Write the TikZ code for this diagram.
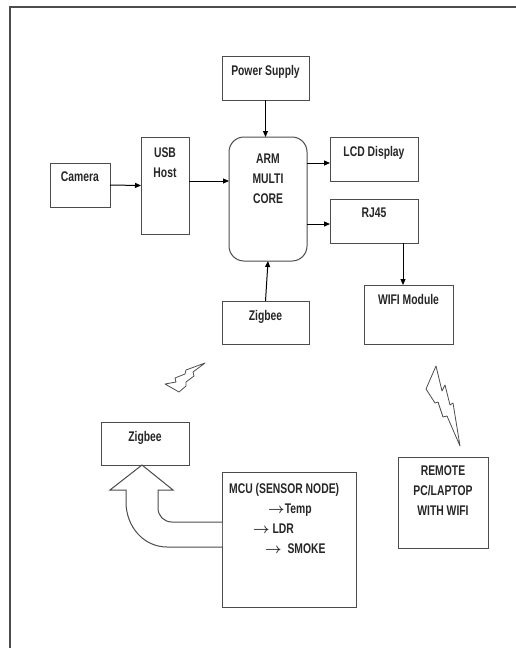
\documentclass[tikz,border=0pt]{standalone}
\usepackage{fontspec}
\setmainfont{Liberation Sans}[FakeStretch=0.74]
\usepackage{tikz}
\usetikzlibrary{arrows.meta}

\newcommand{\sarrow}{{\boldmath$\rightarrow$}}

\begin{document}
\begin{tikzpicture}[
  x=1pt, y=-1pt,
  box/.style   = {draw=black!70, line width=1pt, inner sep=0pt, outer sep=0pt},
  txt/.style   = {anchor=north, inner sep=0pt, yshift=-9pt, align=center,
                  font=\fontsize{14}{20}\selectfont\bfseries, text=black!85},
  arrow/.style = {-{Triangle[length=6pt, width=5pt]}, line width=1pt},
  bolt/.style  = {draw=black!70, line width=0.8pt, fill=white, line join=round}
]
\useasboundingbox (0,0) rectangle (516,648);

% ── Frame ────────────────────────────────────────────────────────────────────
\draw[black!70, line width=2pt] (10,648) -- (10,7) -- (516,7);

% ── Nodes ────────────────────────────────────────────────────────────────────
\node[box, minimum width=87, minimum height=44,
      label={[txt]north:Power Supply}] (pwr) at (265.5,78) {};
\node[box, minimum width=60, minimum height=44,
      label={[txt]north:Camera}] (cam) at (80,185) {};
\node[box, minimum width=48, minimum height=97,
      label={[txt, yshift=-2pt]north:USB\\Host}] (usb) at (165,185.5) {};
\node[box, rounded corners=15pt, minimum width=78, minimum height=124,
      label={[txt, yshift=-8pt]north:ARM\\MULTI\\CORE}] (arm) at (268,199) {};
\node[box, minimum width=88, minimum height=44,
      label={[txt]north:LCD Display}] (lcd) at (374,159) {};
\node[box, minimum width=88, minimum height=44,
      label={[txt]north:RJ45}] (rj) at (374,221) {};
\node[box, minimum width=89, minimum height=59,
      label={[txt]north:WIFI Module}] (wifi) at (408.5,314.5) {};
\node[box, minimum width=87, minimum height=43,
      label={[txt]north:Zigbee}] (zigA) at (265.5,322.5) {};
\node[box, minimum width=88, minimum height=43,
      label={[txt]north:Zigbee}] (zigB) at (145,443.5) {};
\node[box, minimum width=134, minimum height=135,
      label={[txt, anchor=north west, xshift=7pt, yshift=-2pt, align=left]north west:%
        MCU (SENSOR NODE)\\
        \hspace*{39pt}\sarrow Temp\\
        \hspace*{24pt}\sarrow\ LDR\\
        \hspace*{36pt}\sarrow\ \ SMOKE}] (mcu) at (289,539.5) {};
\node[box, minimum width=90, minimum height=91,
      label={[txt]north:REMOTE\\PC/LAPTOP\\WITH WIFI}] (pc) at (443,502.5) {};

% ── Arrows ───────────────────────────────────────────────────────────────────
\draw[arrow] (pwr.south) -- (pwr.south |- arm.north);
\draw[arrow] (cam.east) -- (usb.west);
\draw[arrow] (usb.east |- 0,181) -- (arm.west |- 0,181);
\draw[arrow] (arm.east |- 0,163) -- (lcd.west |- 0,163);
\draw[arrow] (arm.east |- 0,224) -- (rj.west |- 0,224);
\draw[arrow] (rj.south -| 403,0) -- (wifi.north -| 403,0);
\draw[arrow] (zigA.north) -- (arm.south);

% ── Wireless links ───────────────────────────────────────────────────────────
\draw[bolt] (205,363) -- (186,370) -- (185,374) -- (175,378) -- (176,382)
  -- (165,384) -- (179,392) -- (186,386) -- (186,382) -- (194,376)
  -- (193,372) -- cycle;
\draw[bolt] (436,366) -- (426,389) -- (435,403) -- (438,402) -- (443,417)
  -- (447,416) -- (460,446) -- (453,403) -- (450,405) -- (445,385)
  -- (442,391) -- cycle;

% ── Sensor node to Zigbee ────────────────────────────────────────────────────
\draw[box, fill=white] (mcu.west |- 0,522) -- (172,522)
  .. controls (164,522) and (158,516) .. (158,508) -- (158,490) -- (173,490)
  -- (zigB.south -| 142,0) -- (110,490) -- (126,490) -- (126,502)
  .. controls (126,527) and (144,547) .. (167,547) -- (mcu.west |- 0,547);

\end{tikzpicture}
\end{document}
